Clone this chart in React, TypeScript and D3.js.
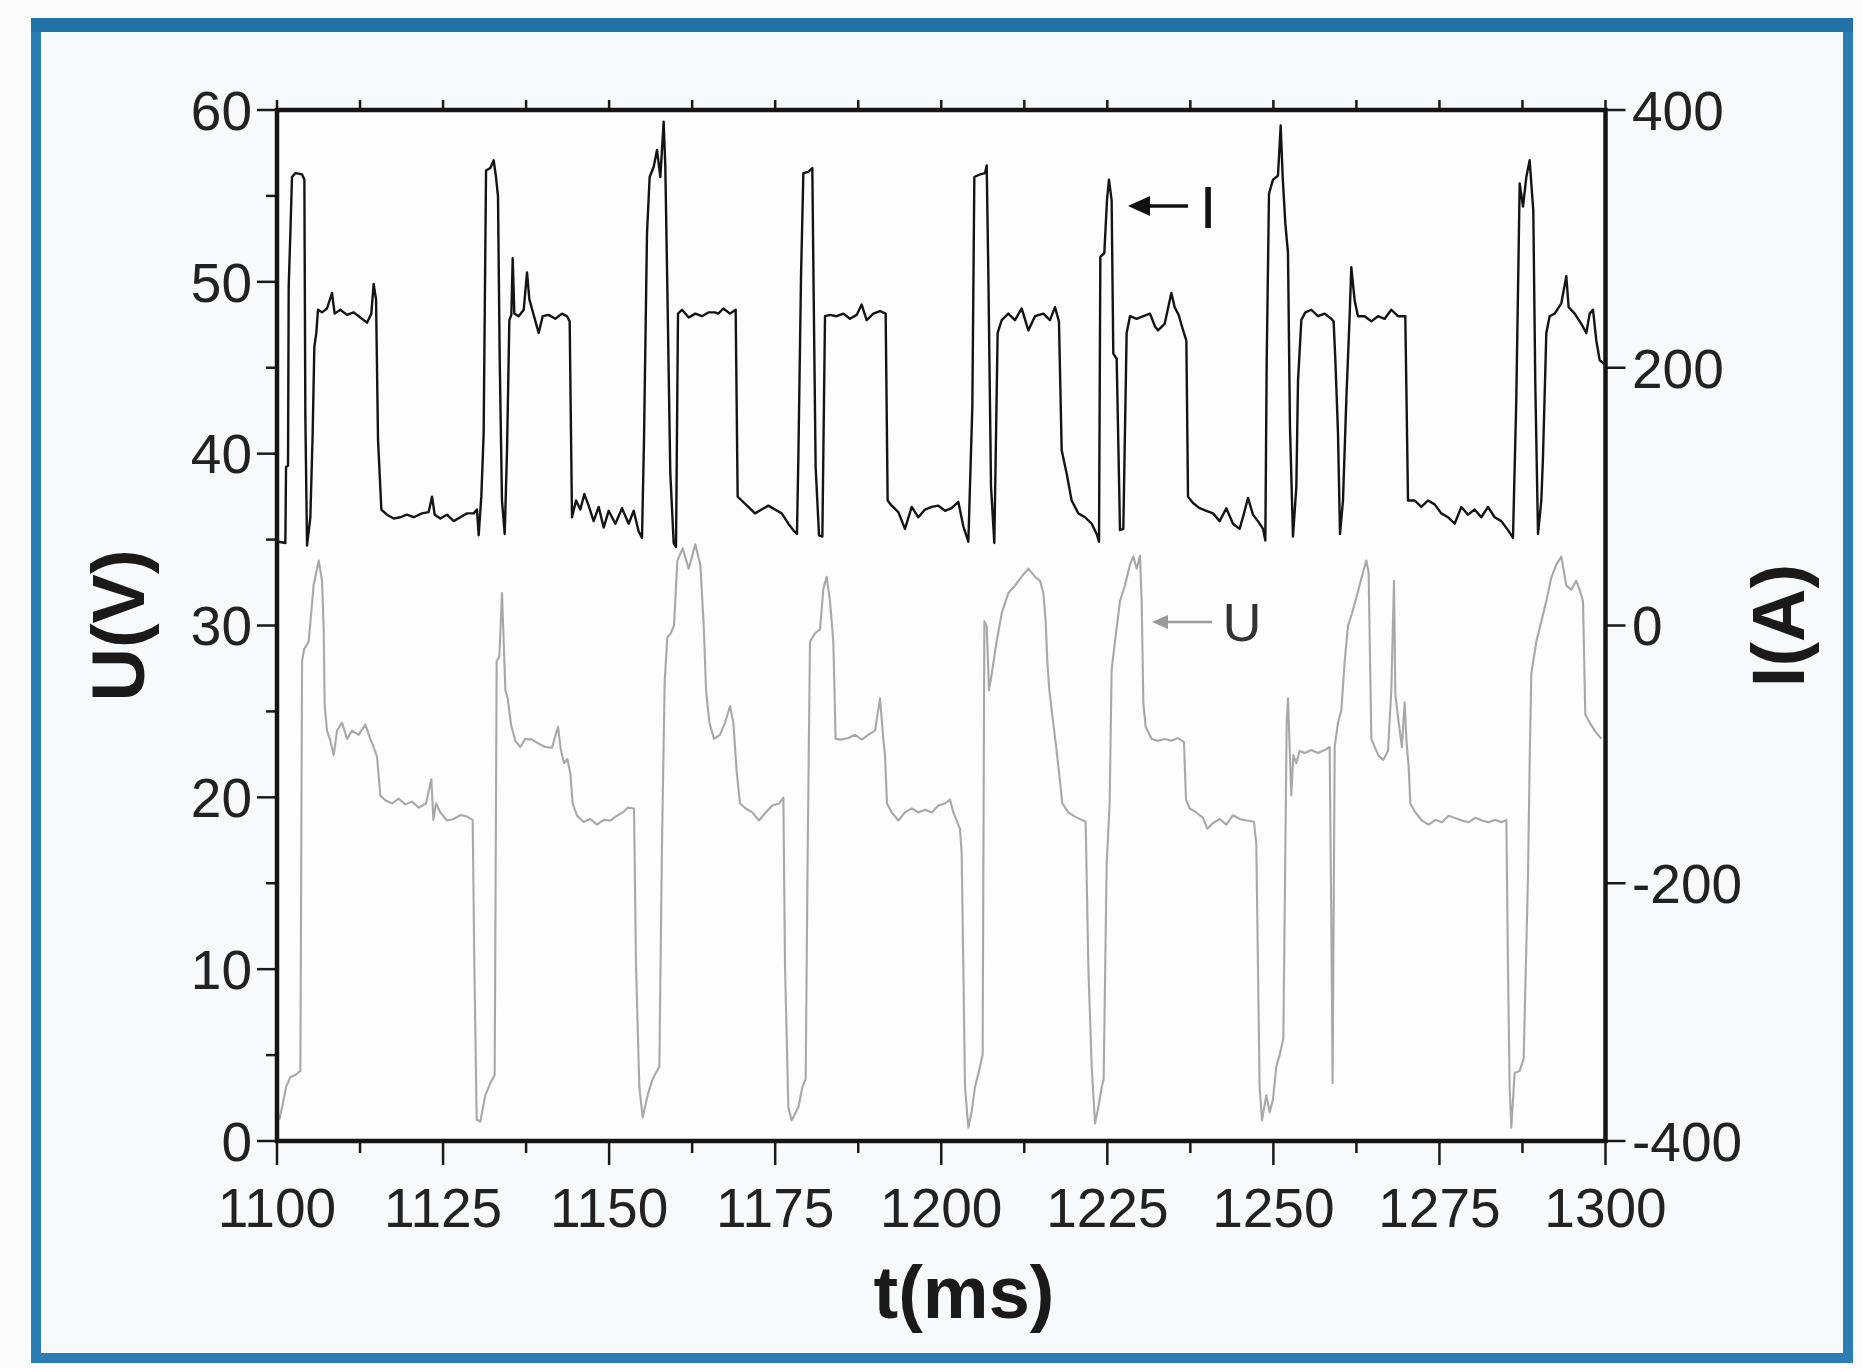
import React from 'react';
import * as d3 from 'd3';

// Axis ticks
const timeTicks = [1100, 1125, 1150, 1175, 1200, 1225, 1250, 1275, 1300];
const voltageTicks = [0, 10, 20, 30, 40, 50, 60];
const currentTicks = [-400, -200, 0, 200, 400];

// Current I (A) vs t (ms)
const currentSeries: [number, number][] = [
  [1100.25, 65], [1101.26, 64], [1101.36, 123], [1101.66, 124], [1101.76, 263], [1102.01, 304], [1102.26, 348],
  [1102.76, 351], [1103.77, 350], [1104.12, 346], [1104.27, 162], [1104.52, 62], [1105.02, 84], [1105.37, 149],
  [1105.62, 216], [1105.92, 227], [1106.17, 245], [1106.78, 243], [1107.53, 246], [1108.28, 258], [1108.68, 242],
  [1109.54, 245], [1110.54, 241], [1111.54, 243], [1112.55, 239], [1113.55, 235], [1114.2, 242], [1114.55, 265],
  [1114.91, 253], [1115.21, 144], [1115.71, 90], [1116.56, 86], [1117.57, 83], [1118.57, 84], [1119.57, 86],
  [1120.58, 84], [1121.83, 87], [1122.83, 88], [1123.34, 100], [1123.74, 86], [1124.59, 83], [1125.59, 86],
  [1126.6, 81], [1127.6, 84], [1128.6, 87], [1129.61, 87], [1130.11, 90], [1130.36, 70], [1130.76, 100],
  [1131.11, 149], [1131.47, 353], [1132.12, 355], [1132.62, 361], [1132.97, 348], [1133.27, 333], [1133.52, 209],
  [1133.87, 97], [1134.28, 71], [1134.63, 136], [1134.98, 237], [1135.28, 241], [1135.48, 285], [1135.73, 242],
  [1136.38, 240], [1137.14, 245], [1137.64, 274], [1137.99, 253], [1138.64, 241], [1139.39, 227], [1140.0, 240],
  [1140.9, 241], [1141.9, 238], [1142.91, 242], [1143.66, 240], [1144.06, 236], [1144.41, 84], [1145.02, 97],
  [1145.67, 90], [1146.27, 102], [1146.92, 93], [1147.67, 81], [1148.43, 92], [1149.18, 76], [1149.93, 89],
  [1150.94, 79], [1151.94, 91], [1152.94, 79], [1153.7, 89], [1154.45, 73], [1154.95, 68], [1155.25, 144],
  [1155.7, 304], [1156.1, 348], [1156.71, 356], [1157.21, 369], [1157.71, 348], [1158.21, 391], [1158.46, 356],
  [1158.76, 263], [1159.21, 118], [1159.72, 64], [1160.07, 61], [1160.37, 242], [1160.97, 245], [1161.98, 239],
  [1162.98, 242], [1163.98, 240], [1164.99, 243], [1165.94, 243], [1166.44, 242], [1167.19, 246], [1168.2, 242],
  [1169.05, 245], [1169.35, 100], [1169.95, 97], [1170.96, 92], [1171.96, 87], [1172.96, 90], [1173.97, 93],
  [1174.97, 90], [1175.98, 87], [1176.98, 79], [1177.88, 73], [1178.28, 71], [1178.49, 131], [1178.89, 271],
  [1179.24, 351], [1179.99, 352], [1180.59, 355], [1180.79, 258], [1181.09, 123], [1181.6, 70], [1182.1, 69],
  [1182.5, 240], [1183.25, 241], [1184.26, 240], [1185.26, 242], [1186.26, 238], [1187.27, 241], [1188.02, 249],
  [1188.77, 237], [1189.78, 242], [1190.78, 244], [1191.63, 242], [1191.93, 97], [1192.54, 93], [1193.54, 88],
  [1194.54, 75], [1195.55, 92], [1196.55, 84], [1197.55, 90], [1198.56, 92], [1199.56, 93], [1200.56, 89],
  [1201.57, 91], [1202.57, 96], [1203.32, 77], [1204.08, 65], [1204.68, 170], [1204.98, 348], [1205.83, 350],
  [1206.59, 351], [1206.84, 357], [1207.09, 273], [1207.49, 108], [1207.99, 64], [1208.49, 227], [1209.1, 237],
  [1210.1, 242], [1211.1, 237], [1212.11, 246], [1213.11, 229], [1214.11, 240], [1215.37, 242], [1216.37, 237],
  [1217.12, 247], [1217.72, 236], [1218.13, 136], [1218.88, 118], [1219.63, 97], [1220.64, 87], [1221.64, 84],
  [1222.65, 79], [1223.4, 71], [1223.75, 65], [1223.95, 286], [1224.55, 289], [1224.95, 330], [1225.25, 346],
  [1225.65, 330], [1225.9, 211], [1226.41, 207], [1226.91, 74], [1227.41, 75], [1227.91, 227], [1228.41, 240],
  [1229.42, 238], [1230.42, 240], [1231.43, 242], [1232.18, 232], [1232.63, 229], [1233.63, 234], [1234.64, 258],
  [1235.14, 247], [1235.74, 241], [1236.24, 232], [1236.9, 221], [1237.15, 100], [1237.9, 95], [1238.9, 91],
  [1239.91, 89], [1240.91, 87], [1241.91, 81], [1242.92, 91], [1243.92, 79], [1244.92, 75], [1245.58, 87],
  [1246.18, 99], [1246.93, 86], [1247.68, 81], [1248.44, 75], [1248.79, 66], [1248.99, 203], [1249.34, 335],
  [1249.94, 346], [1250.69, 349], [1251.1, 388], [1251.4, 348], [1251.8, 312], [1252.2, 289], [1252.5, 154],
  [1252.95, 69], [1253.46, 108], [1253.71, 190], [1254.21, 237], [1254.81, 243], [1255.71, 245], [1256.72, 240],
  [1257.72, 242], [1258.72, 238], [1259.07, 236], [1259.33, 206], [1259.73, 149], [1260.03, 71], [1260.48, 97],
  [1260.98, 175], [1261.48, 240], [1261.73, 278], [1262.24, 252], [1262.74, 240], [1263.74, 240], [1264.75, 236],
  [1265.75, 240], [1266.75, 238], [1267.76, 245], [1268.76, 240], [1269.86, 240], [1270.27, 97], [1271.27, 97],
  [1272.27, 92], [1273.28, 97], [1274.28, 94], [1275.28, 87], [1276.29, 84], [1277.29, 79], [1278.3, 92],
  [1279.3, 86], [1280.3, 90], [1281.3, 84], [1282.31, 92], [1283.31, 84], [1284.32, 81], [1285.32, 74],
  [1286.07, 68], [1286.57, 175], [1287.08, 343], [1287.58, 325], [1288.08, 348], [1288.58, 361], [1288.83, 343],
  [1289.13, 322], [1289.43, 188], [1289.84, 71], [1290.34, 97], [1290.59, 131], [1291.09, 227], [1291.59, 240],
  [1292.34, 242], [1293.35, 250], [1294.1, 271], [1294.45, 247], [1295.36, 242], [1296.36, 234], [1297.11, 227],
  [1297.62, 242], [1298.12, 245], [1298.62, 221], [1299.12, 206], [1299.77, 203],
];

// Voltage U (V) vs t (ms)
const voltageSeries: [number, number][] = [
  [1100.35, 1.25], [1100.76, 1.96], [1101.36, 3.13], [1102.01, 3.73], [1102.76, 3.84], [1103.52, 4.08],
  [1103.77, 27.9], [1104.07, 28.6], [1104.77, 29.07], [1105.52, 32.36], [1106.28, 33.78], [1106.78, 32.6],
  [1107.03, 29.8], [1107.18, 25.3], [1107.53, 23.88], [1108.03, 23.3], [1108.53, 22.46], [1109.04, 23.88],
  [1109.79, 24.35], [1110.54, 23.4], [1111.29, 23.88], [1112.3, 23.64], [1113.3, 24.23], [1114.05, 23.4],
  [1114.55, 22.93], [1115.06, 22.35], [1115.56, 20.1], [1116.31, 19.83], [1117.31, 19.64], [1118.32, 19.92],
  [1119.32, 19.59], [1120.33, 19.75], [1121.33, 19.4], [1122.43, 19.64], [1123.24, 21.05], [1123.54, 18.69],
  [1123.94, 19.64], [1124.59, 19.12], [1125.6, 18.65], [1126.6, 18.74], [1127.6, 18.97], [1128.61, 18.88],
  [1129.46, 18.69], [1129.71, 10.2], [1130.06, 1.25], [1130.61, 1.13], [1131.37, 2.67], [1132.12, 3.37],
  [1132.77, 3.84], [1133.07, 27.9], [1133.47, 28.2], [1133.87, 31.89], [1134.38, 26.24], [1134.73, 25.77],
  [1135.23, 24.23], [1135.88, 23.29], [1136.63, 22.93], [1137.39, 23.4], [1138.39, 23.36], [1139.39, 23.12],
  [1140.4, 22.93], [1141.4, 22.89], [1142.3, 24.11], [1142.71, 22.82], [1143.21, 21.99], [1143.71, 22.23],
  [1144.16, 21.4], [1144.51, 19.64], [1145.17, 18.93], [1146.17, 18.57], [1147.17, 18.74], [1148.18, 18.41],
  [1149.18, 18.69], [1150.18, 18.65], [1151.19, 18.93], [1152.04, 19.12], [1152.84, 19.4], [1153.75, 19.35],
  [1154.05, 10.2], [1154.55, 3.13], [1155.05, 1.37], [1155.8, 2.67], [1156.55, 3.61], [1157.56, 4.32],
  [1157.96, 17.28], [1158.36, 26.71], [1158.76, 29.3], [1159.27, 29.54], [1159.77, 30.0], [1160.27, 33.78],
  [1161.07, 34.49], [1161.98, 33.31], [1162.98, 34.72], [1163.73, 33.54], [1164.24, 30.0], [1164.59, 26.24],
  [1165.09, 24.35], [1165.79, 23.4], [1166.69, 23.64], [1167.45, 24.35], [1168.2, 25.3], [1168.7, 24.35],
  [1169.2, 21.52], [1169.7, 19.64], [1170.56, 19.35], [1171.56, 19.12], [1172.56, 18.65], [1173.57, 19.12],
  [1174.57, 19.52], [1175.57, 19.64], [1176.23, 19.99], [1176.48, 10.2], [1176.98, 1.96], [1177.48, 1.2],
  [1178.49, 1.96], [1179.09, 3.13], [1179.59, 3.61], [1179.89, 16.81], [1180.24, 29.07], [1180.99, 29.54],
  [1181.75, 29.77], [1182.25, 32.13], [1182.75, 32.84], [1183.25, 31.42], [1183.75, 29.07], [1184.1, 23.4],
  [1185.01, 23.36], [1186.01, 23.45], [1187.02, 23.64], [1188.02, 23.36], [1189.02, 23.64], [1190.03, 23.88],
  [1190.78, 25.76], [1191.28, 23.4], [1191.53, 22.46], [1191.83, 19.64], [1192.54, 19.12], [1193.54, 18.65],
  [1194.54, 19.12], [1195.55, 19.35], [1196.55, 19.12], [1197.55, 19.28], [1198.56, 19.12], [1199.56, 19.52],
  [1200.56, 19.64], [1201.32, 19.87], [1201.82, 19.12], [1202.32, 18.65], [1202.82, 18.17], [1203.07, 16.76],
  [1203.32, 10.2], [1203.58, 3.13], [1204.08, 0.78], [1204.58, 1.72], [1205.08, 3.13], [1205.68, 4.08],
  [1206.23, 5.02], [1206.49, 30.24], [1206.84, 29.96], [1207.19, 26.24], [1207.59, 27.18], [1208.34, 29.07],
  [1209.1, 30.71], [1210.1, 31.89], [1211.1, 32.32], [1212.11, 32.84], [1213.11, 33.31], [1214.11, 32.84],
  [1214.87, 32.6], [1215.37, 31.89], [1215.72, 30.24], [1215.97, 27.89], [1216.27, 26.24], [1216.72, 24.77],
  [1217.23, 23.17], [1217.73, 21.47], [1218.23, 19.64], [1219.13, 19.12], [1220.13, 18.88], [1221.14, 18.69],
  [1221.74, 18.58], [1222.14, 10.2], [1222.65, 4.32], [1223.15, 1.02], [1223.65, 1.96], [1224.15, 3.13],
  [1224.45, 3.61], [1224.9, 16.1], [1225.35, 19.64], [1225.65, 27.41], [1226.15, 29.07], [1226.91, 31.42],
  [1227.66, 32.36], [1228.41, 33.54], [1228.91, 34.01], [1229.42, 33.31], [1229.92, 34.06], [1230.17, 31.42],
  [1230.42, 25.53], [1230.77, 24.11], [1231.68, 23.4], [1232.63, 23.29], [1233.63, 23.4], [1234.64, 23.29],
  [1235.64, 23.45], [1236.54, 23.22], [1236.85, 19.87], [1237.4, 19.35], [1238.4, 19.12], [1239.4, 18.81],
  [1240.06, 18.17], [1240.91, 18.5], [1241.91, 18.74], [1242.92, 18.41], [1243.92, 18.97], [1244.92, 18.74],
  [1245.93, 18.65], [1247.08, 18.58], [1247.43, 17.28], [1247.68, 10.2], [1247.93, 3.13], [1248.29, 1.2],
  [1248.94, 2.67], [1249.44, 1.68], [1249.94, 2.43], [1250.44, 4.32], [1250.95, 5.02], [1251.5, 5.97],
  [1251.75, 14.92], [1252.0, 24.35], [1252.2, 25.76], [1252.45, 22.93], [1252.7, 20.11], [1253.0, 22.46],
  [1253.45, 21.99], [1253.96, 22.7], [1254.71, 22.58], [1255.71, 22.75], [1256.72, 22.58], [1257.72, 22.75],
  [1258.47, 22.93], [1258.72, 13.04], [1258.92, 3.37], [1259.23, 22.93], [1259.73, 24.35], [1260.23, 25.06],
  [1260.73, 27.89], [1261.23, 29.96], [1261.84, 30.71], [1262.34, 31.42], [1262.99, 32.36], [1263.49, 33.07],
  [1263.99, 33.78], [1264.34, 33.07], [1264.75, 23.4], [1265.25, 22.93], [1265.85, 22.41], [1266.55, 22.18],
  [1267.25, 22.7], [1267.76, 26.24], [1268.16, 32.6], [1268.36, 26.0], [1268.86, 24.35], [1269.36, 22.93],
  [1269.76, 25.53], [1270.06, 23.17], [1270.37, 21.76], [1270.62, 19.64], [1271.37, 19.12], [1272.37, 18.65],
  [1273.38, 18.41], [1274.38, 18.69], [1275.38, 18.55], [1276.39, 18.93], [1277.39, 18.79], [1278.39, 18.65],
  [1279.4, 18.55], [1280.4, 18.81], [1281.4, 18.65], [1282.41, 18.55], [1283.41, 18.69], [1284.32, 18.55],
  [1285.07, 18.69], [1285.32, 10.2], [1285.57, 3.13], [1285.82, 0.78], [1286.32, 3.96], [1287.08, 4.08],
  [1287.68, 4.79], [1288.33, 15.4], [1288.58, 21.99], [1288.83, 27.18], [1289.59, 29.07], [1290.34, 30.24],
  [1291.09, 31.42], [1291.84, 32.79], [1292.6, 33.54], [1293.35, 34.01], [1294.1, 32.32], [1294.85, 32.08],
  [1295.6, 32.6], [1296.11, 32.08], [1296.61, 31.42], [1296.96, 24.82], [1297.62, 24.35], [1298.37, 23.88],
  [1299.37, 23.4],
];

const FONT = '"Liberation Sans", Arial, Helvetica, sans-serif';

export default function App() {
  const W = 1862;
  const H = 1368;
  const left = 277, right = 1605.5, top = 110, bottom = 1141;

  const x = d3.scaleLinear().domain([1100, 1300]).range([left, right]);
  const yV = d3.scaleLinear().domain([0, 60]).range([bottom, top]);
  const yI = d3.scaleLinear().domain([-400, 400]).range([bottom, top]);

  const lineI = d3.line<[number, number]>().x((d) => x(d[0])).y((d) => yI(d[1]));
  const lineV = d3.line<[number, number]>().x((d) => x(d[0])).y((d) => yV(d[1]));

  const minorT = d3.range(1100, 1300.01, 12.5);
  const minorV = d3.range(0, 60.01, 5);

  return (
    <svg
      width={W}
      height={H}
      viewBox={`0 0 ${W} ${H}`}
      style={{ position: 'absolute', left: 0, top: 0, background: '#fbfcfd' }}
    >
      <defs>
        <clipPath id="plotClip">
          <rect x={left} y={top} width={right - left} height={bottom - top} />
        </clipPath>
      </defs>

      {/* outer blue frame */}
      <rect x={0} y={0} width={W} height={H} fill="#fbfcfd" />
      <rect x={36} y={26} width={1812} height={1332} fill="#f6fafd" stroke="#2c7db4" strokeWidth={10} />
      <rect x={31} y={18} width={1822} height={14} fill="#2272a8" />

      {/* plot area */}
      <rect x={left} y={top} width={right - left} height={bottom - top} fill="#fcfdfe" />

      <g clipPath="url(#plotClip)">
        <path d={lineV(voltageSeries) || ''} fill="none" stroke="#a8a8a8" strokeWidth={2.1} strokeLinejoin="round" />
        <path d={lineI(currentSeries) || ''} fill="none" stroke="#141414" strokeWidth={2.4} strokeLinejoin="round" />
      </g>

      {/* bottom ticks */}
      {minorT.map((t) => {
        const major = timeTicks.includes(t);
        return (
          <line key={'bt' + t} x1={x(t)} x2={x(t)} y1={bottom} y2={bottom + (major ? 24 : 12)} stroke="#1a1a1a" strokeWidth={2.5} />
        );
      })}
      {/* top ticks */}
      {minorT.map((t) => (
        <line key={'tt' + t} x1={x(t)} x2={x(t)} y1={top} y2={top - 10} stroke="#1a1a1a" strokeWidth={2.5} />
      ))}
      {/* left ticks */}
      {minorV.map((v) => {
        const major = voltageTicks.includes(v);
        return (
          <line key={'lt' + v} x1={left} x2={left - (major ? 20 : 11)} y1={yV(v)} y2={yV(v)} stroke="#1a1a1a" strokeWidth={2.5} />
        );
      })}
      {/* right ticks */}
      {currentTicks.map((v) => (
        <line key={'rt' + v} x1={right} x2={right + 20} y1={yI(v)} y2={yI(v)} stroke="#1a1a1a" strokeWidth={2.5} />
      ))}

      {/* axes frame */}
      <rect x={left} y={top} width={right - left} height={bottom - top} fill="none" stroke="#151515" strokeWidth={4.5} />

      {/* tick labels */}
      {timeTicks.map((t) => (
        <text key={'tl' + t} x={x(t)} y={1227} textAnchor="middle" fontFamily={FONT} fontSize={55} fill="#222">
          {t}
        </text>
      ))}
      {voltageTicks.map((v) => (
        <text key={'vl' + v} x={252} y={yV(v)} dy="0.36em" textAnchor="end" fontFamily={FONT} fontSize={55} fill="#222">
          {v}
        </text>
      ))}
      {currentTicks.map((v) => (
        <text key={'il' + v} x={1632} y={yI(v)} dy="0.36em" textAnchor="start" fontFamily={FONT} fontSize={55} fill="#222">
          {v}
        </text>
      ))}

      {/* axis titles */}
      <text x={964} y={1318} textAnchor="middle" fontFamily={FONT} fontSize={74} fontWeight="bold" fill="#1a1a1a">
        t(ms)
      </text>
      <text
        transform={`translate(144, ${(top + bottom) / 2}) rotate(-90)`}
        textAnchor="middle"
        fontFamily={FONT}
        fontSize={74}
        fontWeight="bold"
        fill="#1a1a1a"
      >
        U(V)
      </text>
      <text
        transform={`translate(1804, ${(top + bottom) / 2}) rotate(-90)`}
        textAnchor="middle"
        fontFamily={FONT}
        fontSize={74}
        fontWeight="bold"
        fill="#1a1a1a"
      >
        I(A)
      </text>

      {/* annotations */}
      <line x1={1188} y1={206} x2={1146} y2={206} stroke="#111" strokeWidth={3.5} />
      <polygon points="1128,206 1150,196 1150,216" fill="#111" />
      <text x={1208} y={206} dy="0.36em" textAnchor="middle" fontFamily={FONT} fontSize={60} fill="#111">
        I
      </text>

      <line x1={1212} y1={622} x2={1166} y2={622} stroke="#9a9a9a" strokeWidth={2.5} />
      <polygon points="1152,622 1168,615 1168,629" fill="#9a9a9a" />
      <text x={1242} y={622} dy="0.36em" textAnchor="middle" fontFamily={FONT} fontSize={54} fill="#333">
        U
      </text>
    </svg>
  );
}
